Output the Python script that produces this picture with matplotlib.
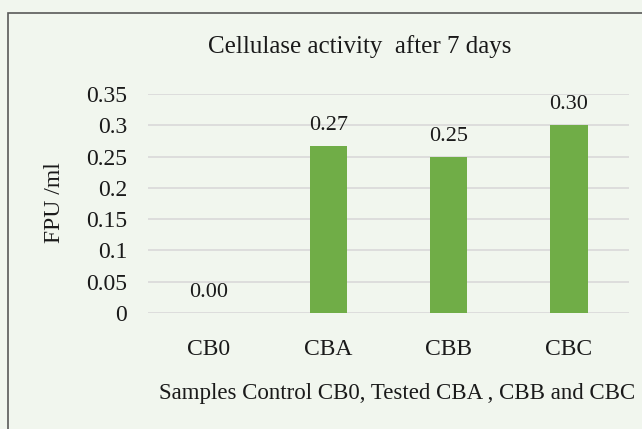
import matplotlib.pyplot as plt
from matplotlib.patches import Rectangle

# data
samples = ["CB0", "CBA", "CBB", "CBC"]
fpu_ml = [0.0, 0.267, 0.249, 0.301]
value_labels = ["0.00", "0.27", "0.25", "0.30"]
y_ticks = [0, 0.05, 0.1, 0.15, 0.2, 0.25, 0.3, 0.35]
y_tick_labels = ["0", "0.05", "0.1", "0.15", "0.2", "0.25", "0.3", "0.35"]

plt.rcParams["font.family"] = ["Liberation Serif", "DejaVu Serif"]

bg = "#F1F6EE"
ink = "#1a1a1a"
fig = plt.figure(figsize=(6.42, 4.29), dpi=100, facecolor=bg)
# axes box in pixels: x 148..629, y 94..313
ax = fig.add_axes([148 / 642, 1 - 313 / 429, 481 / 642, 219 / 429], facecolor=bg)

# outer frame (runs off the right/bottom edge like the reference)
fig.patches.append(Rectangle((8 / 642, -0.05), 1.1, 1 - 13 / 429 + 0.05,
                             transform=fig.transFigure, fill=False,
                             edgecolor="#595959", linewidth=1.2))

x = range(len(samples))
ax.bar(x, fpu_ml, width=0.31, color="#70AD47", zorder=3)
for xi, v, lab in zip(x, fpu_ml, value_labels):
    ax.annotate(lab, (xi, v), xytext=(0, 11.5), textcoords="offset points",
                ha="center", va="baseline", fontsize=16, color=ink)

ax.set_xlim(-0.5, len(samples) - 0.5)
ax.set_ylim(0, 0.35)
ax.set_yticks(y_ticks)
ax.set_yticklabels(y_tick_labels, fontsize=17)
ax.set_xticks(list(x))
ax.set_xticklabels(samples, fontsize=17)
ax.tick_params(length=0, colors=ink)
ax.tick_params(axis="x", pad=19)
ax.tick_params(axis="y", pad=15)
ax.grid(axis="y", color="#D9D9D9", linewidth=1.2, zorder=0)
for s in ax.spines.values():
    s.set_visible(False)

fig.text(55 / 642, 1 - 203 / 429, "FPU /ml", rotation=90, ha="center", va="center",
         fontsize=17, color=ink)
fig.text(360 / 642, 1 - 47 / 429, "Cellulase activity  after 7 days", ha="center",
         va="center", fontsize=18, color=ink)
fig.text(397 / 642, 1 - 393 / 429, "Samples Control CB0, Tested CBA , CBB and CBC",
         ha="center", va="center", fontsize=16.5, color=ink)

fig.savefig("out.png", dpi=100, facecolor=bg)
